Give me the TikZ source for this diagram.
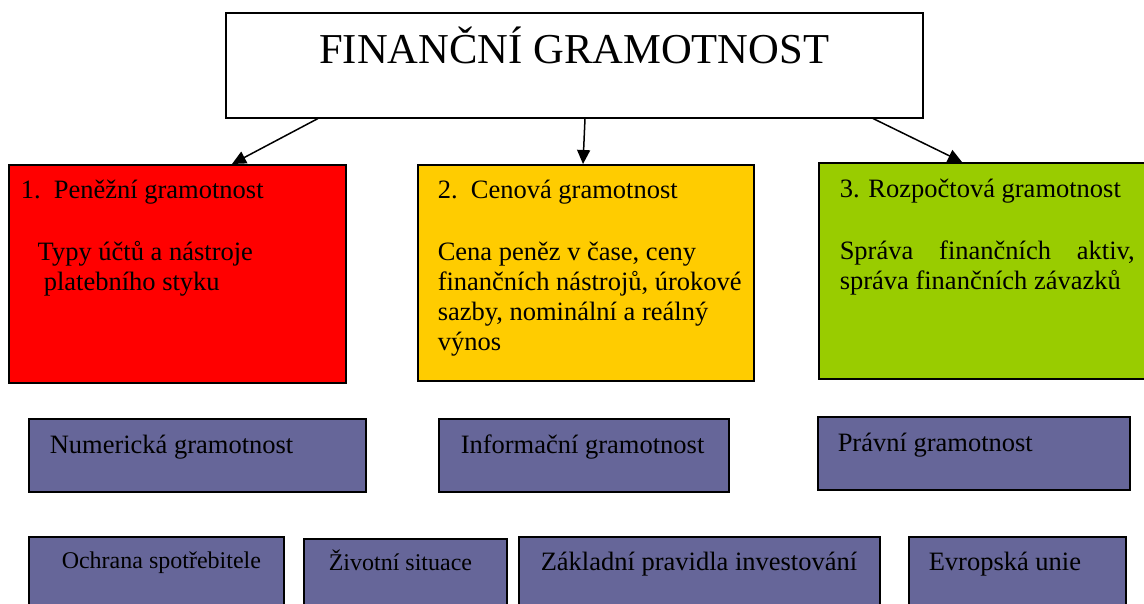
\documentclass[tikz,border=0pt]{standalone}
\usepackage{fontspec}
\setmainfont{Liberation Serif}
\usetikzlibrary{arrows.meta}
\definecolor{yel}{RGB}{255,204,0}
\definecolor{grn}{RGB}{153,204,0}
\definecolor{pur}{RGB}{102,102,153}
\newcommand{\txt}{\fontsize{26.5}{30}\selectfont}
\newcommand{\txtsm}{\fontsize{24}{28}\selectfont}
\hyphenpenalty=10000
\begin{document}
\begin{tikzpicture}[x=1pt,y=-1pt,
  box/.style={draw=black,line width=1.5pt,anchor=north west,inner ysep=0pt,align=flush left,font=\txt},
  arr/.style={-{Triangle[length=14pt,width=13pt]},line width=1.5pt}]
\useasboundingbox (0,0) rectangle (1144,603);
\clip (0,0) rectangle (1144,603);
\node[box,align=flush center,inner xsep=0pt,text width=697pt,text height=51pt,text depth=54pt,font=\fontsize{42.6}{48}\selectfont] (fg) at (225,12) {FINANČNÍ GRAMOTNOST};
\node[box,fill=red,inner xsep=12pt,text width=313pt,text height=34pt,text depth=184pt] (pen) at (8,164)
  {1.\ \ Peněžní gramotnost\\[32pt]
   \hspace*{17pt}Typy účtů a nástroje\\
   \hspace*{23pt}platebního styku};
\node[box,fill=yel,inner xsep=20pt,text width=296pt,text height=34pt,text depth=182pt] (cen) at (417,164)
  {2.\ \ Cenová gramotnost\\[32pt]
   Cena peněz v čase, ceny\\ \mbox{finančních nástrojů, úrokové}\\ sazby, nominální a reálný\\ výnos};
\node[box,fill=grn,align=justify,inner xsep=21pt,text width=295pt,text height=35pt,text depth=181pt] (roz) at (818,162)
  {3. Rozpočtová gramotnost\\[32pt]
   Správa finančních aktiv,\linebreak správa finančních závazků};
\node[box,fill=pur,inner xsep=21pt,text width=295pt,text height=35pt,text depth=38pt] (num) at (28,418) {Numerická~gramotnost};
\node[box,fill=pur,inner xsep=22pt,text width=246pt,text height=35pt,text depth=38pt] (inf) at (438,418) {\mbox{Informační gramotnost}};
\node[box,fill=pur,inner xsep=20pt,text width=272pt,text height=35pt,text depth=38pt] (prav) at (817,416) {Právní~gramotnost};
\node[box,fill=pur,font=\txtsm,inner xsep=33pt,text width=189pt,text height=32pt,text depth=52pt] (ochr) at (28,536) {\mbox{Ochrana spotřebitele}};
\node[box,fill=pur,font=\txtsm,inner xsep=25pt,text width=153pt,text height=32pt,text depth=50pt] (ziv) at (303,538) {Životní~situace};
\node[box,fill=pur,inner xsep=22pt,text width=317pt,text height=34pt,text depth=50pt] (zakl) at (518,536) {\mbox{Základní pravidla investování}};
\node[box,fill=pur,inner xsep=20pt,text width=177pt,text height=34pt,text depth=50pt] (eu) at (908,536) {Evropská~unie};
\draw[arr] ([xshift=93pt]fg.south west) -- ([xshift=224pt]pen.north west);
\draw[arr] ([xshift=360pt]fg.south west) -- ([xshift=166pt]cen.north west);
\draw[arr] ([xshift=648pt]fg.south west) -- ([xshift=144pt]roz.north west);
\end{tikzpicture}
\end{document}
